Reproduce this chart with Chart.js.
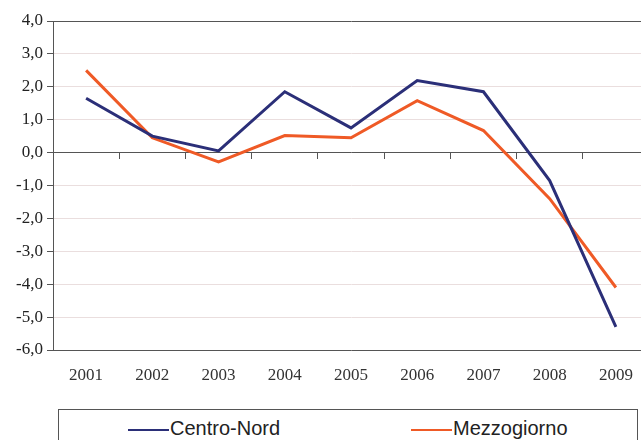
<!DOCTYPE html>
<html>
<head>
<meta charset="utf-8">
<script src="https://cdn.jsdelivr.net/npm/chart.js@4"></script>
<style>
  html, body { margin: 0; padding: 0; background: #fff; overflow: hidden; width: 641px; height: 440px; }
  #chart { position: absolute; left: 0; top: 0; }
  #legend {
    position: absolute; left: 58px; top: 409px; width: 580px; height: 40px;
    border: 1px solid #555; box-sizing: border-box;
    font-family: "Liberation Sans", Arial, sans-serif; font-size: 20px; color: #222;
  }
  .item { position: absolute; top: 6px; line-height: 24px; white-space: nowrap; }
  .swatch { display: inline-block; width: 41px; height: 2px; vertical-align: middle; margin-right: 1px; }
</style>
</head>
<body>
<canvas id="chart" width="660" height="400"></canvas>
<div id="legend"></div>
<script>
const years = ["2001", "2002", "2003", "2004", "2005", "2006", "2007", "2008", "2009"];
const centroNord = [1.65, 0.5, 0.05, 1.85, 0.75, 2.19, 1.85, -0.85, -5.3];
const mezzogiorno = [2.5, 0.45, -0.28, 0.52, 0.45, 1.58, 0.67, -1.4, -4.1];
const seriesNames = ["Centro-Nord", "Mezzogiorno"];
const seriesColors = ["#2b2f78", "#ef5a26"];
const yMin = -6, yMax = 4, yStep = 1;

const fmt = v => v.toFixed(1).replace(".", ",");
const serifFont = { family: "Liberation Serif", size: 17 };

const data = {
  labels: years,
  datasets: [centroNord, mezzogiorno].map((vals, i) => ({
    label: seriesNames[i],
    data: vals,
    borderColor: seriesColors[i],
    backgroundColor: seriesColors[i],
    borderWidth: 3,
    pointRadius: 0,
    tension: 0,
  })),
};

const config = {
  type: "line",
  data: data,
  options: {
    responsive: false,
    animation: false,
    devicePixelRatio: 1,
    layout: { padding: { top: 21, right: 11, left: 0, bottom: 0 } },
    plugins: { legend: { display: false }, tooltip: { enabled: false } },
    scales: {
      x: {
        offset: true,
        grid: { drawOnChartArea: false, drawTicks: false },
        border: { display: true, color: "#555", width: 1 },
        ticks: { padding: 15, color: "#333", font: serifFont, maxRotation: 0 },
        afterFit: s => { s.height = 50; },
      },
      x2: {
        type: "category",
        position: { y: 0 },
        offset: true,
        grid: { offset: true, drawOnChartArea: false, drawTicks: true, tickLength: 6, tickColor: "#555" },
        border: { display: true, color: "#555", width: 1 },
        ticks: { display: false },
      },
      y: {
        type: "linear",
        min: yMin,
        max: yMax,
        grid: {
          color: c => (c.tick && c.tick.value === yMax) ? "#555" : "#eadede",
          tickColor: "#555",
          tickLength: 6,
        },
        border: { display: true, color: "#555", width: 1 },
        ticks: {
          stepSize: yStep,
          padding: 4,
          color: "#222",
          font: serifFont,
          callback: v => fmt(v),
        },
        afterFit: s => { s.width = 53; },
      },
    },
  },
};

const myChart = new Chart(document.getElementById("chart"), config);

const legend = document.getElementById("legend");
const itemLeft = [69, 352];
seriesNames.forEach((name, i) => {
  const item = document.createElement("div");
  item.className = "item";
  item.style.left = itemLeft[i] + "px";
  const sw = document.createElement("span");
  sw.className = "swatch";
  sw.style.background = seriesColors[i];
  item.appendChild(sw);
  item.appendChild(document.createTextNode(name));
  legend.appendChild(item);
});
</script>
</body>
</html>
